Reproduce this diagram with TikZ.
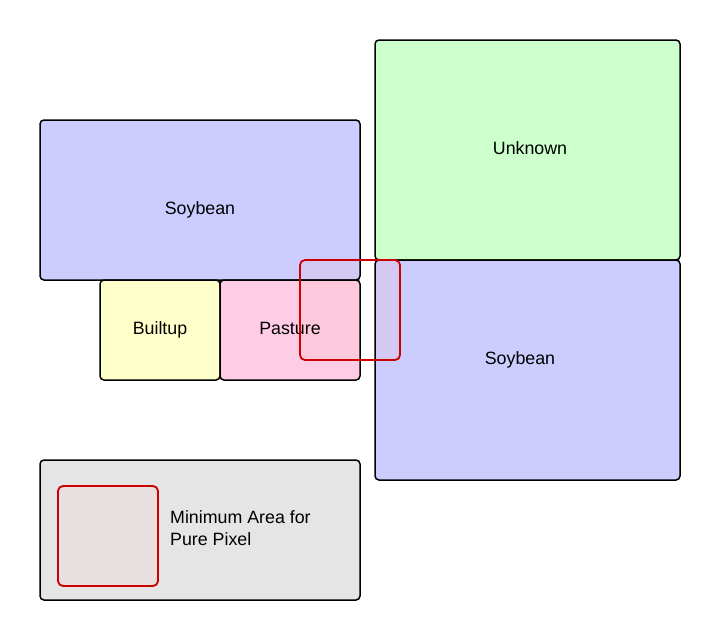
\documentclass[tikz,border=0pt]{standalone}
\usepackage{fontspec}
\setmainfont{Liberation Sans}
\usepackage{xcolor}
\definecolor{soyblue}{HTML}{CCCCFF}
\definecolor{unkgreen}{HTML}{CCFFCC}
\definecolor{builtyellow}{HTML}{FFFFCC}
\definecolor{pastpink}{HTML}{FFCCE5}
\definecolor{legendgray}{HTML}{E5E5E5}
\definecolor{pixred}{HTML}{CC0000}
% tinted colours seen through the pixel window
\definecolor{soytint}{HTML}{D4C9F3}
\definecolor{pasttint}{HTML}{FFC9DD}
\definecolor{graytint}{HTML}{E8E0E0}

\begin{document}
\begin{tikzpicture}[x=1pt, y=-1pt,
  field/.style={draw=black, line width=1.5pt, rounded corners=4pt},
  pixel/.style={draw=pixred, line width=1.8pt, rounded corners=5pt},
  lbl/.style={font=\fontsize{17.8}{22}\selectfont, inner sep=0pt}]
\useasboundingbox (0,0) rectangle (721,640);

% field fills
\fill[soyblue, rounded corners=4pt] (40,120) rectangle (360,280);
\fill[builtyellow, rounded corners=4pt] (100,280) rectangle (220,380);
\fill[pastpink, rounded corners=4pt] (220,280) rectangle (360,380);
\fill[unkgreen, rounded corners=4pt] (375,40) rectangle (680,260);
\fill[soyblue, rounded corners=4pt] (375,260) rectangle (680,480);

% tint under the pixel window
\begin{scope}
\clip[rounded corners=5pt] (300,260) rectangle (400,360);
\fill[soytint] (40,120) rectangle (360,280);
\fill[pasttint] (220,280) rectangle (360,380);
\fill[soytint] (375,260) rectangle (680,480);
\end{scope}

% field borders
\draw[field] (40,120) rectangle (360,280);
\draw[field] (100,280) rectangle (220,380);
\draw[field] (220,280) rectangle (360,380);
\draw[field] (375,40) rectangle (680,260);
\draw[field] (375,260) rectangle (680,480);

\node[lbl] (soyleft) at (200,210) {Soybean};
\node[lbl] (builtup) at (160,330) {Builtup};
\node[lbl] (pasture) at (290,328) {Pasture};
\node[lbl] (unknown) at (530,148) {Unknown};
\node[lbl] (soyright) at (520,360) {Soybean};

% minimum pixel window
\draw[pixel] (300,260) rectangle (400,360);

% legend
\draw[field, fill=legendgray] (40,460) rectangle (360,600);
\draw[pixel, fill=graytint] (58,486) rectangle (158,586);
\node[lbl, anchor=west, align=left] (minarea) at (170,528) {Minimum Area for\\Pure Pixel};

\end{tikzpicture}
\end{document}
